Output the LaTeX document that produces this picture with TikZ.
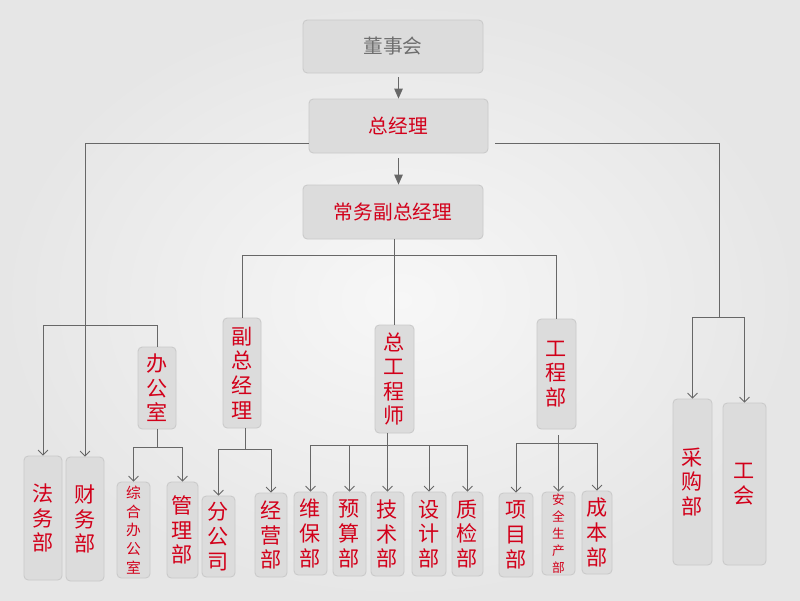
\documentclass[tikz,border=0pt]{standalone}
\usepackage{fontspec}
\usepackage{xcolor}
\usepackage{tikz}
\usetikzlibrary{arrows.meta,positioning,calc}
\newfontfamily\cjk{Noto Sans CJK SC}
\definecolor{Bg}{HTML}{F7F7F7}
\definecolor{BgO}{HTML}{E6E6E6}
\definecolor{BoxF}{HTML}{DCDCDC}
\definecolor{BoxD}{HTML}{C9C9C9}
\definecolor{Txt}{HTML}{D2001A}
\definecolor{TxtG}{HTML}{6E6E6E}
\definecolor{Wire}{HTML}{676767}

\begin{document}
\begin{tikzpicture}[x=0.025cm,y=-0.025cm,
    blk/.style={draw=BoxD,fill=BoxF,rounded corners=3pt,line width=0.6pt,
      text=Txt,align=center,inner sep=0pt,font={\cjk\fontsize{15}{17.5}\selectfont}},
    wide/.style={font={\cjk\fontsize{14}{17}\selectfont}},
    sz/.style 2 args={minimum width=#1*0.025cm,minimum height=#2*0.025cm},
    small/.style={font={\cjk\fontsize{10.5}{13.3}\selectfont}},
    tiny/.style={font={\cjk\fontsize{9}{12.2}\selectfont}},
    wire/.style={draw=Wire,line width=0.65pt},
    tip/.style={wire,-{Triangle[length=7pt,width=6pt]}},
    >={Straight Barb[length=3.5pt,width=7pt]}]
  % background
  \shade[inner color=Bg,outer color=BgO] (0,0) rectangle (800,600);
  \useasboundingbox (0,0) rectangle (800,600);

  % top chain
  \node[blk,wide,sz={180}{53},text=TxtG] (dsh) at (393,46.5) {董事会};
  \node[blk,wide,sz={179}{54}] (zjl) at (398.5,126) {总经理};
  \node[blk,wide,sz={180}{54}] (cwfz) at (393,212) {常务副总经理};

  % second level
  \node[blk,sz={38}{82}] (bgs) at (157,388) {办\\公\\室};
  \node[blk,sz={38}{110}] (fzjl) at (242,373) {副\\总\\经\\理};
  \node[blk,sz={39}{108}] (zgcs) at (394.5,379) {总\\工\\程\\师};
  \node[blk,sz={39}{110}] (gcb) at (556.5,374) {工\\程\\部};

  % bottom row
  \node[blk,sz={38}{124}] (fwb) at (43,518) {法\\务\\部};
  \node[blk,sz={38}{124}] (cwb) at (85,519) {财\\务\\部};
  \node[blk,small,sz={33}{96}] (zhbgs) at (133.5,530) {综\\合\\办\\公\\室};
  \node[blk,sz={31}{96}] (glb) at (182.5,530) {管\\理\\部};
  \node[blk,sz={33}{81}] (fgs) at (218.5,536.5) {分\\公\\司};
  \node[blk,sz={32}{84}] (jyb) at (271,535) {经\\营\\部};
  \node[blk,sz={33}{83}] (wbb) at (310.5,533.5) {维\\保\\部};
  \node[blk,sz={33}{84}] (ysb) at (349.5,534) {预\\算\\部};
  \node[blk,sz={33}{84}] (jsb) at (387.5,534) {技\\术\\部};
  \node[blk,sz={34}{84}] (sjb) at (429,534) {设\\计\\部};
  \node[blk,sz={31}{84}] (zjb) at (467.5,534) {质\\检\\部};
  \node[blk,sz={34}{84}] (xmb) at (516,535) {项\\目\\部};
  \node[blk,tiny,sz={33}{83}] (aqsc) at (558.5,533.5) {安\\全\\生\\产\\部};
  \node[blk,sz={30}{83}] (cbb) at (597,532.5) {成\\本\\部};
  \node[blk,sz={39}{166}] (cgb) at (692.5,482) {采\\购\\部};
  \node[blk,sz={43}{162}] (gh) at (744.5,484) {工\\会};

  % junctions
  \coordinate (cgj) at (719,317);
  \coordinate (lbr) at (100,325);
  \coordinate (cwj) at ($(cwfz.south)+(0,16)$);
  \coordinate (bgj) at ($(bgs.south)+(0,18)$);
  \coordinate (fzj) at ($(fzjl.south)+(3,21)$);
  \coordinate (zgj) at ($(zgcs.south -| jsb.north)+(0,12)$);
  \coordinate (gcj) at ($(gcb.south -| aqsc.north)+(0,14)$);

  % connectors
  \draw[tip] ($(dsh.south -| zjl.north)+(0,4)$) -- (zjl.north);
  \draw[tip] ($(zjl.south)+(0,5)$) -- (zjl.south |- cwfz.north);
  \draw[wire,->] ($(zjl.west)+(0,17)$) -| (cwb.north);
  \draw[wire] ($(zjl.east)+(7,17)$) -| (cgj);
  \draw[wire,->] (cgj) -| (cgb.north);
  \draw[wire,->] (cgj) -| (gh.north);
  \draw[wire] (cwfz.south -| zgcs.north) -- (zgcs.north);
  \draw[wire] (fzjl.north) |- (cwj) -| (gcb.north);
  \draw[wire,->] (bgs.north) |- (lbr) -| (fwb.north);
  \draw[wire] (bgs.south) -- (bgj);
  \draw[wire,->] (bgj) -| (zhbgs.north);
  \draw[wire,->] (bgj) -| (glb.north);
  \draw[wire] (fzjl.south -| fzj) -- (fzj);
  \draw[wire,->] (fzj) -| (fgs.north);
  \draw[wire,->] (fzj) -| (jyb.north);
  \draw[wire,->] (zgcs.south -| jsb.north) -- (jsb.north);
  \foreach \d in {wbb,ysb,sjb,zjb}
    \draw[wire,->] (zgj) -| (\d.north);
  \draw[wire,->] ($(gcb.south -| aqsc.north)+(0,6)$) -- (aqsc.north);
  \draw[wire,->] (gcj) -| (xmb.north);
  \draw[wire,->] (gcj) -| (cbb.north);
\end{tikzpicture}
\end{document}
